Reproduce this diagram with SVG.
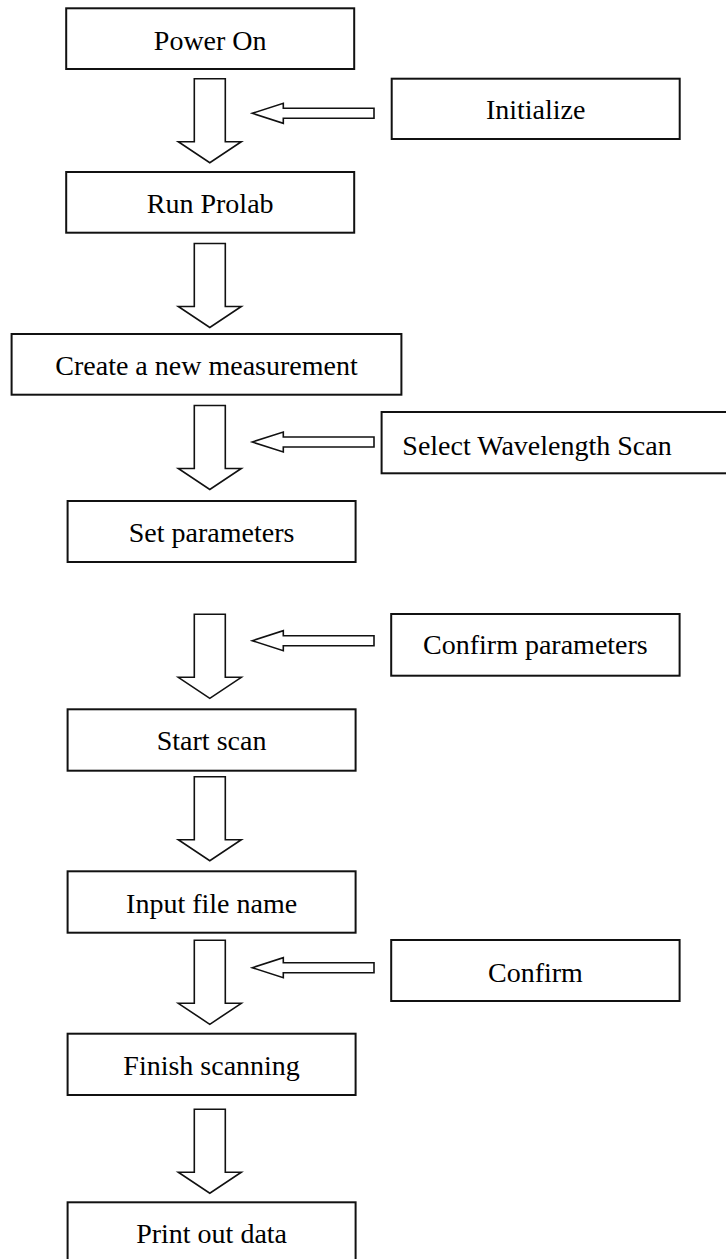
<svg xmlns="http://www.w3.org/2000/svg" xmlns:xlink="http://www.w3.org/1999/xlink" width="726" height="1259" viewBox="0 0 726 1259">
<style>
.box{fill:#fff;stroke:#111;stroke-width:2}
.arr{fill:#fff;stroke:#111;stroke-width:1.6;stroke-linejoin:miter}
.lbl{font-family:"Liberation Serif","Times New Roman",serif;font-size:28px;fill:#000;text-anchor:middle}
</style>
<defs>
<path id="down" class="arr" d="M-15.5,0 H15.5 V63 H31.5 L0,84 L-31.5,63 H-15.5 Z"/>
<path id="left" class="arr" d="M0,0 L31,-10 V-5 H121.7 V5 H31 V10 Z"/>
</defs>
<rect width="726" height="1259" fill="#fff"/>
<g id="connectors">
<use xlink:href="#down" href="#down" x="209.8" y="78.7"/>
<use xlink:href="#down" href="#down" x="209.8" y="243.5"/>
<use xlink:href="#down" href="#down" x="209.8" y="405.5"/>
<use xlink:href="#down" href="#down" x="209.8" y="614.3"/>
<use xlink:href="#down" href="#down" x="209.8" y="776.7"/>
<use xlink:href="#down" href="#down" x="209.8" y="940.3"/>
<use xlink:href="#down" href="#down" x="209.8" y="1109.2"/>
<use xlink:href="#left" href="#left" x="252.3" y="113.3"/>
<use xlink:href="#left" href="#left" x="252.3" y="442"/>
<use xlink:href="#left" href="#left" x="252.3" y="640.7"/>
<use xlink:href="#left" href="#left" x="252.3" y="967.7"/>
</g>
<g id="power-on"><rect class="box" x="66.2" y="8.3" width="288" height="60.7"/><text class="lbl" x="210.2" y="50">Power On</text></g>
<g id="initialize"><rect class="box" x="391.7" y="78.7" width="288" height="60.3"/><text class="lbl" x="535.7" y="119">Initialize</text></g>
<g id="run-prolab"><rect class="box" x="66.2" y="172" width="288" height="60.7"/><text class="lbl" x="210.2" y="213">Run Prolab</text></g>
<g id="create"><rect class="box" x="11.6" y="334" width="389.8" height="60.7"/><text class="lbl" x="206.5" y="375">Create a new measurement</text></g>
<g id="select-wavelength"><rect class="box" x="381.6" y="412" width="350" height="61.3"/><text class="lbl" x="537" y="455">Select Wavelength Scan</text></g>
<g id="set-parameters"><rect class="box" x="67.6" y="501" width="288" height="61"/><text class="lbl" x="211.6" y="541.7">Set parameters</text></g>
<g id="confirm-parameters"><rect class="box" x="391.2" y="614" width="288.4" height="61.7"/><text class="lbl" x="535.4" y="654">Confirm parameters</text></g>
<g id="start-scan"><rect class="box" x="67.6" y="709.3" width="288" height="61.4"/><text class="lbl" x="211.6" y="750">Start scan</text></g>
<g id="input-file-name"><rect class="box" x="67.6" y="871.3" width="288" height="61.4"/><text class="lbl" x="211.6" y="912.7">Input file name</text></g>
<g id="confirm"><rect class="box" x="391.2" y="940" width="288.4" height="61"/><text class="lbl" x="535.4" y="981.7">Confirm</text></g>
<g id="finish-scanning"><rect class="box" x="67.6" y="1033.7" width="288" height="61.3"/><text class="lbl" x="211.6" y="1075">Finish scanning</text></g>
<g id="print-out-data"><rect class="box" x="67.6" y="1202.3" width="288" height="70"/><text class="lbl" x="211.6" y="1243.3">Print out data</text></g>
</svg>
